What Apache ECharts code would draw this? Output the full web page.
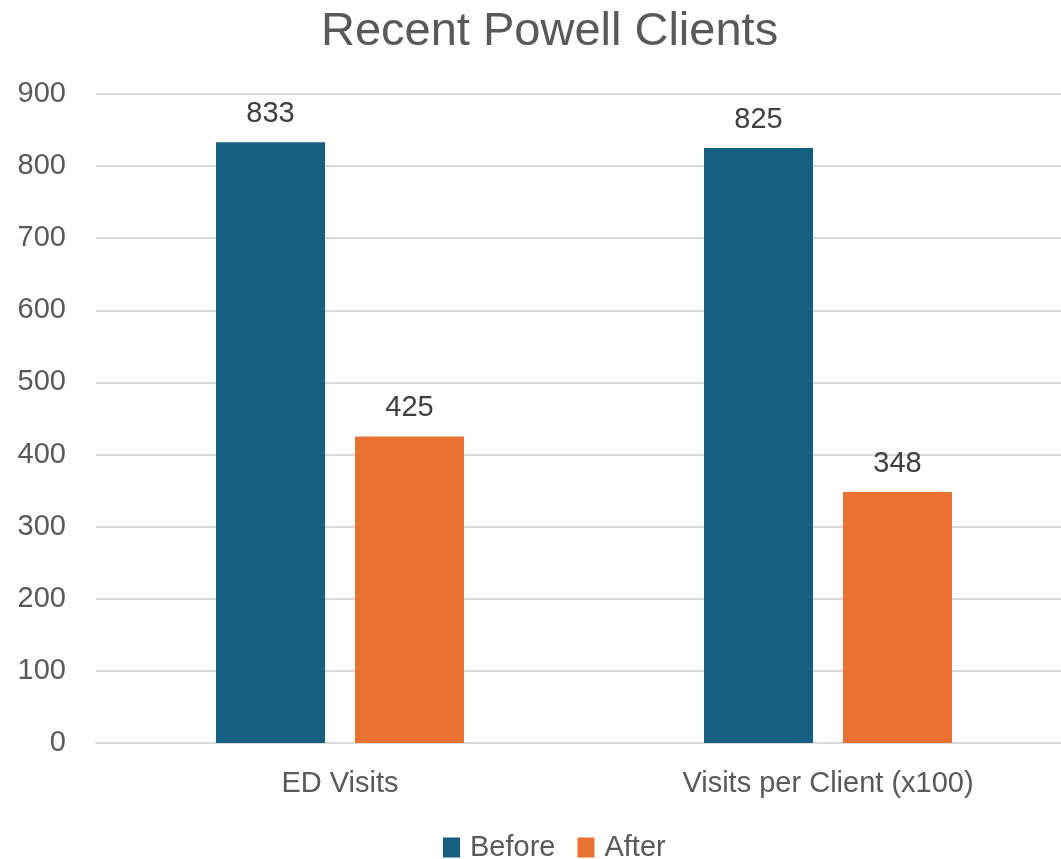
<!DOCTYPE html>
<html><head><meta charset="utf-8">
<script src="https://cdn.jsdelivr.net/npm/echarts@6/dist/echarts.min.js"></script>
<style>html,body{margin:0;padding:0;background:#fff}#c{width:1061px;height:859px}</style>
</head><body><div id="c"></div>
<script>
const categories = ["ED Visits", "Visits per Client (x100)"];
const seriesNames = ["Before", "After"];
const beforeValues = [833, 825];
const afterValues = [425, 348];
const yTicks = [0, 100, 200, 300, 400, 500, 600, 700, 800, 900];

const chart = echarts.init(document.getElementById('c'), null, {renderer: 'canvas'});
const font = "'Liberation Sans', Arial, sans-serif";
const lbl = {show: true, position: 'top', distance: 14, color: '#404040', fontSize: 29, fontFamily: font};
chart.setOption({
  animation: false,
  title: {text: 'Recent Powell Clients', left: 316, top: 4,
    textStyle: {fontSize: 47, fontWeight: 'normal', color: '#595959', fontFamily: font}},
  legend: {left: 438, bottom: -8, itemWidth: 17, itemHeight: 20, itemGap: 22, icon: 'rect',
    textStyle: {fontSize: 29, color: '#595959', fontFamily: font, padding: [0,0,0,5]},
    data: seriesNames},
  grid: {left: 96, width: 976, top: 94, bottom: 116, containLabel: false, outerBoundsMode: 'none'},
  xAxis: {type: 'category', data: categories,
    axisLine: {lineStyle: {color: '#d9d9d9', width: 2}}, axisTick: {show: false},
    axisLabel: {fontSize: 29, color: '#595959', fontFamily: font, margin: 26}},
  yAxis: {type: 'value', min: yTicks[0], max: yTicks[yTicks.length-1], interval: 100,
    axisLine: {show: false}, axisTick: {show: false},
    splitLine: {lineStyle: {color: '#d9d9d9', width: 2}},
    axisLabel: {fontSize: 29, color: '#595959', fontFamily: font, margin: 30}},
  series: [
    {name: seriesNames[0], type: 'bar', data: beforeValues, barWidth: 109, barGap: '27.5%',
      itemStyle: {color: '#156082'}, label: lbl},
    {name: seriesNames[1], type: 'bar', data: afterValues, barWidth: 109,
      itemStyle: {color: '#E97132'}, label: lbl}
  ]
});
</script></body></html>
